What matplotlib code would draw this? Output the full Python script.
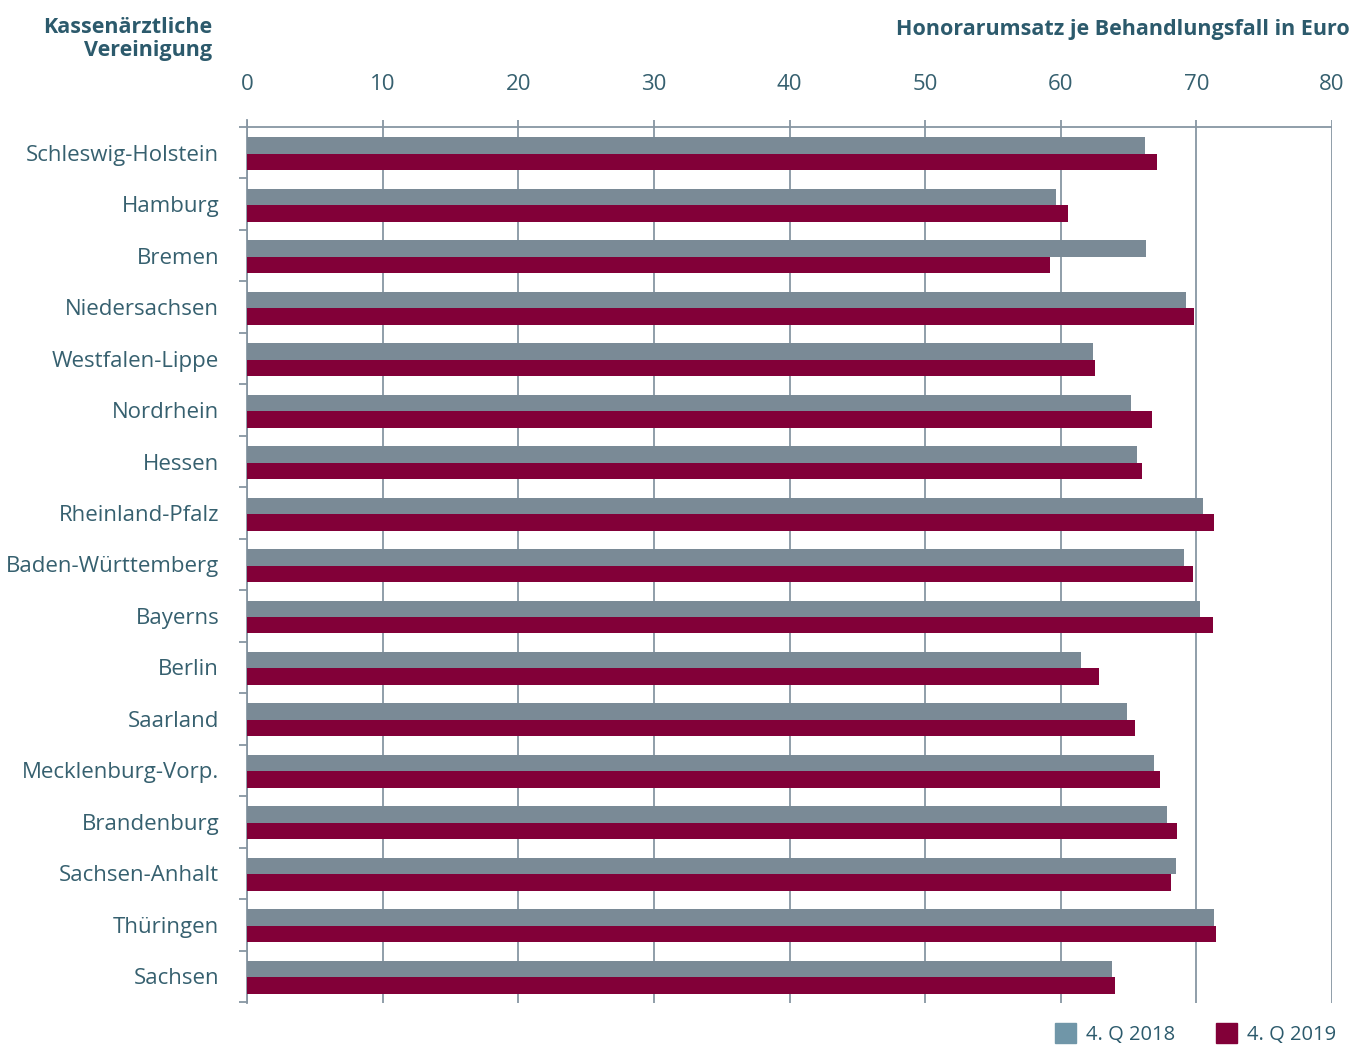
import matplotlib
matplotlib.use("Agg")

import matplotlib.pyplot as plt
from matplotlib.patches import Patch
from matplotlib.ticker import FixedLocator

plt.rcParams["font.family"] = ["Open Sans", "DejaVu Sans"]

# Honorarumsatz je Behandlungsfall in Euro
regions = [
    "Schleswig-Holstein", "Hamburg", "Bremen", "Niedersachsen",
    "Westfalen-Lippe", "Nordrhein", "Hessen", "Rheinland-Pfalz",
    "Baden-Württemberg", "Bayerns", "Berlin", "Saarland",
    "Mecklenburg-Vorp.", "Brandenburg", "Sachsen-Anhalt", "Thüringen",
    "Sachsen",
]
q4_2018 = [66.2, 59.65, 66.3, 69.2, 62.4, 65.2, 65.6, 70.5,
           69.1, 70.3, 61.5, 64.9, 66.9, 67.8, 68.5, 71.3, 63.8]
q4_2019 = [67.1, 60.5, 59.2, 69.8, 62.5, 66.7, 66.0, 71.3,
           69.75, 71.2, 62.8, 65.5, 67.3, 68.6, 68.1, 71.45, 64.0]
x_ticks = [0, 10, 20, 30, 40, 50, 60, 70, 80]

GREY = "#7a8a96"
MAROON = "#820038"
LEGEND_GREY = "#7096a8"
TEXT = "#2c5a6c"
TICK_TEXT = "#36606f"
LINE = "#8796a2"

fig = plt.figure(figsize=(13.56, 10.46), dpi=100)
ax = fig.add_axes([247 / 1356, 1 - 1003 / 1046, 1085 / 1356, 883 / 1046])

n = len(regions)
pos = list(range(n))
h = 0.32
ax.barh([p - h / 2 + 0.02 for p in pos], q4_2018, height=h, color=GREY, zorder=3)
ax.barh([p + h / 2 + 0.02 for p in pos], q4_2019, height=h, color=MAROON, zorder=3)

ax.set_xlim(0, 80)
ax.set_ylim(n - 0.5 + 1 / 51.5, -0.5 - 7 / 51.5)

# vertical grid and top rule
for t in x_ticks:
    ax.axvline(t, color=LINE, lw=1.3, zorder=1)
ax.axhline(-0.5, color=LINE, lw=1.3, zorder=1)

for side in ["top", "right", "bottom"]:
    ax.spines[side].set_visible(False)
ax.spines["left"].set_color(LINE)
ax.spines["left"].set_linewidth(1.3)

ax.xaxis.tick_top()
ax.set_xticks(x_ticks)
ax.tick_params(axis="x", length=0, pad=18, labelsize=16, labelcolor=TICK_TEXT)

ax.set_yticks(pos)
ax.set_yticklabels(regions)
ax.tick_params(axis="y", which="major", length=0, pad=20, labelsize=16,
               labelcolor=TICK_TEXT)
ax.yaxis.set_minor_locator(FixedLocator([p - 0.5 for p in range(n + 1)]))
ax.tick_params(axis="y", which="minor", length=6, width=1.3, color=LINE)

fig.text(212 / 1356, 1 - 39 / 1046, "Kassenärztliche\nVereinigung", ha="right",
         va="center", fontsize=15.5, fontweight="bold", color=TEXT, linespacing=1.1)
fig.text(1350 / 1356, 1 - 29 / 1046, "Honorarumsatz je Behandlungsfall in Euro",
         ha="right", va="center", fontsize=15.5, fontweight="bold", color=TEXT)

handles = [Patch(color=LEGEND_GREY, label="4. Q 2018"),
           Patch(color=MAROON, label="4. Q 2019")]
fig.legend(handles=handles, loc="center right", bbox_to_anchor=(1354 / 1356, 1 - 1034 / 1046),
           ncol=2, frameon=False, fontsize=14.5, labelcolor=TEXT,
           handlelength=1.05, handleheight=1.1, handletextpad=0.5, columnspacing=2.0)

fig.savefig("out.png", dpi=100)
